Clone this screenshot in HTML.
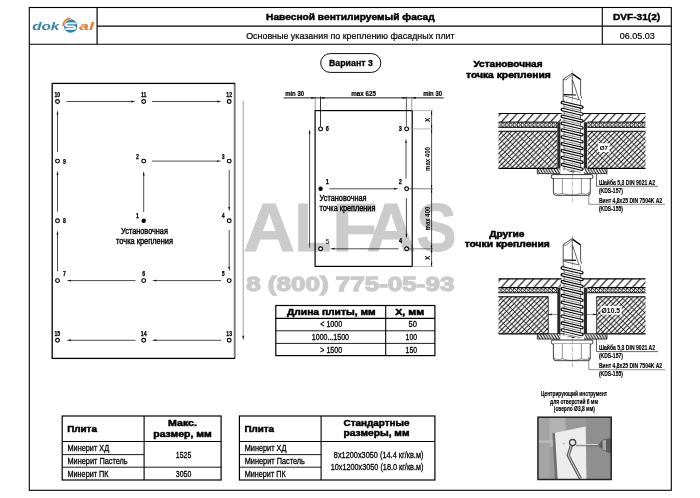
<!DOCTYPE html>
<html><head><meta charset="utf-8"><title>DVF-31(2)</title>
<style>html,body{margin:0;padding:0;background:#fff;}svg{display:block;will-change:transform;font-family:'Liberation Sans', sans-serif;}</style>
</head><body>
<svg width="700" height="498" viewBox="0 0 700 498">
<defs>
<pattern id="hd" width="8.2" height="8.6" patternUnits="userSpaceOnUse" patternTransform="translate(501 113.4)"><path d="M-1.3,10.32 L9.63,-1.72 M-9.5,10.32 L1.43,-1.72 M6.9,10.32 L17.83,-1.72" stroke="#000" stroke-width="1.05"/></pattern>
<pattern id="hx1" width="4.5" height="4.5" patternUnits="userSpaceOnUse" patternTransform="translate(498.5 131.3)"><path d="M-1,5.5 L5.5,-1 M-1,1 L1,-1 M3.5,5.5 L5.5,3.5" stroke="#000" stroke-width="1.0"/></pattern>
<pattern id="hx2" width="7.6" height="7.6" patternUnits="userSpaceOnUse" patternTransform="translate(499.5 131.3)"><path d="M-1,-1 L8.6,8.6 M-1,6.6 L1,8.6 M6.6,-1 L8.6,1" stroke="#000" stroke-width="0.7"/></pattern>
<pattern id="hs" width="3.9" height="5" patternUnits="userSpaceOnUse" patternTransform="translate(498.5 122.4)"><path d="M-1,-1 L6,6 M-1,6 L6,-1 M-1,2.9 L2.1,6 M-1,2.1 L2.1,-1 M1.8,-1 L4.9,2.1 M1.8,6 L4.9,2.9" stroke="#000" stroke-width="0.95"/></pattern>
<pattern id="hw" width="2.8" height="4.8" patternUnits="userSpaceOnUse" patternTransform="translate(537.3 168.9)"><path d="M-0.7,-1.2 L3.5,6 M-3.5,-1.2 L0.7,6 M2.1,-1.2 L6.3,6" stroke="#000" stroke-width="0.95"/></pattern>
<filter id="bl" x="-5%" y="-5%" width="110%" height="110%"><feGaussianBlur stdDeviation="0.7"/></filter>
<clipPath id="ph"><rect x="538" y="417.3" width="73" height="62"/></clipPath>
</defs>
<rect width="700" height="498" fill="#fff"/>
<g fill="#cfcfcf">
<text transform="translate(243.42 251.1) scale(1.0286 1)" font-size="69.3" font-weight="bold" fill="#cbcbcb" stroke="#cbcbcb" stroke-width="1">A</text>
<text transform="translate(294.74 251.1) scale(0.8632 1)" font-size="69.3" font-weight="bold" fill="#cbcbcb" stroke="#cbcbcb" stroke-width="1">L</text>
<text transform="translate(331.97 251.1) scale(1.0751 1)" font-size="69.3" font-weight="bold" fill="#cbcbcb" stroke="#cbcbcb" stroke-width="1">F</text>
<text transform="translate(366.4 251.1) scale(0.9812 1)" font-size="69.3" font-weight="bold" fill="#cbcbcb" stroke="#cbcbcb" stroke-width="1">A</text>
<text transform="translate(416.54 251.1) scale(0.8631 1)" font-size="69.3" font-weight="bold" fill="#cbcbcb" stroke="#cbcbcb" stroke-width="1">S</text>
<text x="246.2" y="291.0" font-size="20.8" font-weight="bold" fill="#cbcbcb" textLength="208.2" lengthAdjust="spacingAndGlyphs" stroke="#cbcbcb" stroke-width="1.3">8 (800) 775-05-93</text>
</g>
<rect x="29.3" y="7.5" width="642.0" height="482.8" stroke="#000" stroke-width="1.1" fill="none" />
<line x1="29.3" y1="44.3" x2="671.3" y2="44.3" stroke="#000" stroke-width="1.1" />
<line x1="97.1" y1="7.5" x2="97.1" y2="44.3" stroke="#000" stroke-width="1.2" />
<line x1="97.1" y1="26.1" x2="671.3" y2="26.1" stroke="#000" stroke-width="1.1" />
<line x1="602.3" y1="7.5" x2="602.3" y2="44.3" stroke="#000" stroke-width="1.1" />
<text x="350.4" y="20.4" font-size="9.4" font-weight="bold" text-anchor="middle" textLength="168.7" lengthAdjust="spacingAndGlyphs" stroke="#000" stroke-width="0.45">Навесной вентилируемый фасад</text>
<text x="350.4" y="39.2" font-size="9.7" text-anchor="middle" textLength="208.5" lengthAdjust="spacingAndGlyphs" stroke="#000" stroke-width="0.22">Основные указания по креплению фасадных плит</text>
<text x="636.6" y="19.9" font-size="9.5" font-weight="bold" text-anchor="middle" textLength="47.3" lengthAdjust="spacingAndGlyphs" stroke="#000" stroke-width="0.4">DVF-31(2)</text>
<text x="637.2" y="39.2" font-size="9.4" text-anchor="middle" textLength="35" lengthAdjust="spacingAndGlyphs" stroke="#000" stroke-width="0.2">06.05.03</text>
<text x="32.2" y="30.1" font-size="11.8" font-weight="bold" font-style="italic" fill="#3585ab" textLength="27.2" lengthAdjust="spacingAndGlyphs">dok</text>
<text x="79" y="30.1" font-size="11.8" font-weight="bold" font-style="italic" fill="#e9782c" textLength="15" lengthAdjust="spacingAndGlyphs">al</text>
<g transform="translate(70.6 26.05)">
<circle r="6.7" fill="#2f86ae"/>
<path d="M-8.3,0.5 A8.1,8.1 0 0 1 0.5,-8.3 L0.4,-5.9 A6.1,6.1 0 0 0 -5.9,0.4 Z" fill="#fff" transform="translate(-0.3 -0.3)"/>
<path d="M-8.0,0.3 A8.0,8.0 0 0 1 0.3,-8.0 L0.25,-6.35 A6.35,6.35 0 0 0 -6.35,0.25 Z" fill="#e9782c" transform="translate(-0.3 -0.3)"/>
<path d="M5.3,-2.6 L-2.3,-2.6 Q-4.6,-2.6 -4.6,-1.15 Q-4.6,0.3 -2.3,0.3 L2.3,0.3 Q4.6,0.3 4.6,1.6 Q4.6,2.9 2.3,2.9 L-5.3,2.9" fill="none" stroke="#fff" stroke-width="1.75"/>
</g>
<rect x="320.7" y="53.6" width="60.1" height="18.8" rx="9.4" ry="9.4" fill="#fff" stroke="#000" stroke-width="0.95"/>
<text x="350.9" y="66.3" font-size="9.4" font-weight="bold" text-anchor="middle" textLength="44" lengthAdjust="spacingAndGlyphs" stroke="#000" stroke-width="0.3">Вариант 3</text>
<rect x="52.2" y="83.4" width="182.4" height="275.0" stroke="#000" stroke-width="1.3" fill="none" />
<line x1="234.6" y1="84.2" x2="234.6" y2="357.6" stroke="#7a7a7a" stroke-width="1.5" />
<line x1="66.5" y1="101.5" x2="131.6" y2="101.5" stroke="#111" stroke-width="0.75" />
<polygon points="135.5,101.5 131.1,102.45 131.1,100.55" fill="#111"/>
<line x1="152" y1="101.5" x2="217.6" y2="101.5" stroke="#111" stroke-width="0.75" />
<polygon points="221.5,101.5 217.1,102.45 217.1,100.55" fill="#111"/>
<line x1="57.5" y1="152" x2="57.5" y2="114.1" stroke="#111" stroke-width="0.75" />
<polygon points="57.5,110.2 58.45,114.6 56.55,114.6" fill="#111"/>
<line x1="57.5" y1="211.7" x2="57.5" y2="174.5" stroke="#111" stroke-width="0.75" />
<polygon points="57.5,170.6 58.45,175.0 56.55,175.0" fill="#111"/>
<line x1="152" y1="161.1" x2="217.6" y2="161.1" stroke="#111" stroke-width="0.75" />
<polygon points="221.5,161.1 217.1,162.05 217.1,160.15" fill="#111"/>
<line x1="143.7" y1="212" x2="143.7" y2="174.9" stroke="#111" stroke-width="0.75" />
<polygon points="143.7,171 144.65,175.4 142.75,175.4" fill="#111"/>
<line x1="229.2" y1="170" x2="229.2" y2="207.6" stroke="#111" stroke-width="0.75" />
<polygon points="229.2,211.5 228.25,207.1 230.15,207.1" fill="#111"/>
<line x1="229.2" y1="230" x2="229.2" y2="267.6" stroke="#111" stroke-width="0.75" />
<polygon points="229.2,271.5 228.25,267.1 230.15,267.1" fill="#111"/>
<line x1="221" y1="280.6" x2="155.9" y2="280.6" stroke="#111" stroke-width="0.75" />
<polygon points="152,280.6 156.4,279.65 156.4,281.55" fill="#111"/>
<line x1="135.5" y1="280.6" x2="70.4" y2="280.6" stroke="#111" stroke-width="0.75" />
<polygon points="66.5,280.6 70.9,279.65 70.9,281.55" fill="#111"/>
<line x1="57.5" y1="271.4" x2="57.5" y2="234.2" stroke="#111" stroke-width="0.75" />
<polygon points="57.5,230.3 58.45,234.7 56.55,234.7" fill="#111"/>
<line x1="221" y1="340.3" x2="155.9" y2="340.3" stroke="#111" stroke-width="0.75" />
<polygon points="152,340.3 156.4,339.35 156.4,341.25" fill="#111"/>
<line x1="135.5" y1="340.3" x2="70.4" y2="340.3" stroke="#111" stroke-width="0.75" />
<polygon points="66.5,340.3 70.9,339.35 70.9,341.25" fill="#111"/>
<circle cx="57.5" cy="101.5" r="1.9" fill="#fff" stroke="#000" stroke-width="1.15"/>
<circle cx="143.7" cy="101.5" r="1.9" fill="#fff" stroke="#000" stroke-width="1.15"/>
<circle cx="229.2" cy="101.5" r="1.9" fill="#fff" stroke="#000" stroke-width="1.15"/>
<circle cx="57.5" cy="161.1" r="1.9" fill="#fff" stroke="#000" stroke-width="1.15"/>
<circle cx="143.7" cy="161.1" r="1.9" fill="#fff" stroke="#000" stroke-width="1.15"/>
<circle cx="229.2" cy="161.1" r="1.9" fill="#fff" stroke="#000" stroke-width="1.15"/>
<circle cx="57.5" cy="220.8" r="1.9" fill="#fff" stroke="#000" stroke-width="1.15"/>
<circle cx="143.7" cy="220.8" r="2.1999999999999997" fill="#000"/>
<circle cx="229.2" cy="220.8" r="1.9" fill="#fff" stroke="#000" stroke-width="1.15"/>
<circle cx="57.5" cy="280.6" r="1.9" fill="#fff" stroke="#000" stroke-width="1.15"/>
<circle cx="143.7" cy="280.6" r="1.9" fill="#fff" stroke="#000" stroke-width="1.15"/>
<circle cx="229.2" cy="280.6" r="1.9" fill="#fff" stroke="#000" stroke-width="1.15"/>
<circle cx="57.5" cy="340.3" r="1.9" fill="#fff" stroke="#000" stroke-width="1.15"/>
<circle cx="143.7" cy="340.3" r="1.9" fill="#fff" stroke="#000" stroke-width="1.15"/>
<circle cx="229.2" cy="340.3" r="1.9" fill="#fff" stroke="#000" stroke-width="1.15"/>
<text x="57.3" y="97.2" font-size="6.4" font-weight="bold" text-anchor="middle" textLength="5.7" lengthAdjust="spacingAndGlyphs" stroke="#000" stroke-width="0.25">10</text>
<text x="143.7" y="97.2" font-size="6.4" font-weight="bold" text-anchor="middle" textLength="5.41" lengthAdjust="spacingAndGlyphs" stroke="#000" stroke-width="0.25">11</text>
<text x="229.2" y="97.2" font-size="6.4" font-weight="bold" text-anchor="middle" textLength="5.7" lengthAdjust="spacingAndGlyphs" stroke="#000" stroke-width="0.25">12</text>
<text x="64.4" y="163.7" font-size="6.4" font-weight="bold" text-anchor="middle" textLength="2.85" lengthAdjust="spacingAndGlyphs" stroke="#000" stroke-width="0.25">9</text>
<text x="137.5" y="158.6" font-size="6.4" font-weight="bold" text-anchor="middle" textLength="2.85" lengthAdjust="spacingAndGlyphs" stroke="#000" stroke-width="0.25">2</text>
<text x="223.2" y="158.6" font-size="6.4" font-weight="bold" text-anchor="middle" textLength="2.85" lengthAdjust="spacingAndGlyphs" stroke="#000" stroke-width="0.25">3</text>
<text x="64.4" y="223.4" font-size="6.4" font-weight="bold" text-anchor="middle" textLength="2.85" lengthAdjust="spacingAndGlyphs" stroke="#000" stroke-width="0.25">8</text>
<text x="137.5" y="218.2" font-size="6.4" font-weight="bold" text-anchor="middle" textLength="2.85" lengthAdjust="spacingAndGlyphs" stroke="#000" stroke-width="0.25">1</text>
<text x="223.2" y="218.2" font-size="6.4" font-weight="bold" text-anchor="middle" textLength="2.85" lengthAdjust="spacingAndGlyphs" stroke="#000" stroke-width="0.25">4</text>
<text x="64.5" y="275.6" font-size="6.4" font-weight="bold" text-anchor="middle" textLength="2.85" lengthAdjust="spacingAndGlyphs" stroke="#000" stroke-width="0.25">7</text>
<text x="143.7" y="275.6" font-size="6.4" font-weight="bold" text-anchor="middle" textLength="2.85" lengthAdjust="spacingAndGlyphs" stroke="#000" stroke-width="0.25">6</text>
<text x="223.2" y="275.6" font-size="6.4" font-weight="bold" text-anchor="middle" textLength="2.85" lengthAdjust="spacingAndGlyphs" stroke="#000" stroke-width="0.25">5</text>
<text x="57.3" y="335.6" font-size="6.4" font-weight="bold" text-anchor="middle" textLength="5.7" lengthAdjust="spacingAndGlyphs" stroke="#000" stroke-width="0.25">15</text>
<text x="143.7" y="335.6" font-size="6.4" font-weight="bold" text-anchor="middle" textLength="5.7" lengthAdjust="spacingAndGlyphs" stroke="#000" stroke-width="0.25">14</text>
<text x="229.2" y="335.6" font-size="6.4" font-weight="bold" text-anchor="middle" textLength="5.7" lengthAdjust="spacingAndGlyphs" stroke="#000" stroke-width="0.25">13</text>
<text x="144.5" y="233.5" font-size="9.2" text-anchor="middle" textLength="46.8" lengthAdjust="spacingAndGlyphs" stroke="#000" stroke-width="0.4">Установочная</text>
<text x="144.5" y="243.6" font-size="9.2" text-anchor="middle" textLength="57" lengthAdjust="spacingAndGlyphs" stroke="#000" stroke-width="0.4">точка крепления</text>
<line x1="243.2" y1="101" x2="243.2" y2="337" stroke="#a8a8a8" stroke-width="1.1" />
<polygon points="243.2,340.4 242.3,335.8 244.1,335.8" fill="#111"/>
<rect x="315.1" y="110.6" width="97.1" height="155.8" stroke="#000" stroke-width="1.2" fill="none" />
<line x1="283.6" y1="97.9" x2="443.6" y2="97.9" stroke="#000" stroke-width="0.9" />
<line x1="315.2" y1="96.6" x2="315.2" y2="110.6" stroke="#333" stroke-width="0.5" />
<line x1="320.5" y1="96.6" x2="320.5" y2="126.5" stroke="#000" stroke-width="0.8" />
<line x1="406.4" y1="96.6" x2="406.4" y2="126.5" stroke="#1a1a1a" stroke-width="0.7" />
<line x1="411.8" y1="96.6" x2="411.8" y2="110.6" stroke="#8a8a8a" stroke-width="0.9" />
<path d="M315.2,97.9 l-4,-0.9 v1.8z M320.5,97.9 l4,-0.9 v1.8z M406.4,97.9 l-4,-0.9 v1.8z M411.9,97.9 l4,-0.9 v1.8z" fill="#000"/>
<text x="285.2" y="96.4" font-size="7.2" font-weight="bold" textLength="18.8" lengthAdjust="spacingAndGlyphs" stroke="#000" stroke-width="0.2">min 30</text>
<text x="363.6" y="96.4" font-size="7.2" font-weight="bold" text-anchor="middle" textLength="24.9" lengthAdjust="spacingAndGlyphs" stroke="#000" stroke-width="0.2">max 625</text>
<text x="423.2" y="96.4" font-size="7.2" font-weight="bold" textLength="18.8" lengthAdjust="spacingAndGlyphs" stroke="#000" stroke-width="0.2">min 30</text>
<line x1="431.6" y1="110.6" x2="431.6" y2="266.4" stroke="#000" stroke-width="0.7" />
<line x1="412.2" y1="110.6" x2="433" y2="110.6" stroke="#888" stroke-width="0.6" />
<line x1="409" y1="128.9" x2="433" y2="128.9" stroke="#999" stroke-width="0.7" />
<line x1="409" y1="188.8" x2="433" y2="188.8" stroke="#222" stroke-width="0.6" />
<line x1="409" y1="248.8" x2="433" y2="248.8" stroke="#333" stroke-width="0.6" />
<line x1="412.2" y1="266.4" x2="433" y2="266.4" stroke="#888" stroke-width="0.6" />
<path d="M431.6,110.6 l-0.7,3.6 h1.4z M431.6,128.9 l-0.7,-3.6 h1.4z M431.6,128.9 l-0.7,3.6 h1.4z M431.6,188.8 l-0.7,-3.6 h1.4z M431.6,188.8 l-0.7,3.6 h1.4z M431.6,248.8 l-0.7,-3.6 h1.4z M431.6,248.8 l-0.7,3.6 h1.4z M431.6,266.4 l-0.7,-3.6 h1.4z" fill="#000"/>
<text x="430" y="119.8" font-size="6.6" font-weight="bold" text-anchor="middle" transform="rotate(-90 430 119.8)">X</text>
<text x="430" y="257.9" font-size="6.6" font-weight="bold" text-anchor="middle" transform="rotate(-90 430 257.9)">X</text>
<text x="430.4" y="159" font-size="6.4" font-weight="bold" text-anchor="middle" textLength="24" lengthAdjust="spacingAndGlyphs" transform="rotate(-90 430.4 159)">max 400</text>
<text x="430.4" y="218.5" font-size="6.4" font-weight="bold" text-anchor="middle" textLength="24" lengthAdjust="spacingAndGlyphs" transform="rotate(-90 430.4 218.5)">max 400</text>
<line x1="329.4" y1="188.8" x2="394.6" y2="188.8" stroke="#111" stroke-width="0.75" />
<polygon points="398.5,188.8 394.1,189.75 394.1,187.85" fill="#111"/>
<line x1="406" y1="178.5" x2="406.0" y2="142.3" stroke="#111" stroke-width="0.75" />
<polygon points="406,138.4 406.95,142.8 405.05,142.8" fill="#111"/>
<line x1="406.4" y1="198" x2="406.4" y2="234.7" stroke="#111" stroke-width="0.75" />
<polygon points="406.4,238.6 405.45,234.2 407.35,234.2" fill="#111"/>
<line x1="398.5" y1="248.8" x2="333.9" y2="248.8" stroke="#111" stroke-width="0.75" />
<polygon points="330,248.8 334.4,247.85 334.4,249.75" fill="#111"/>
<line x1="309.6" y1="247.5" x2="309.6" y2="133.1" stroke="#111" stroke-width="0.75" />
<polygon points="309.6,129.2 310.55,133.6 308.65,133.6" fill="#111"/>
<circle cx="320.6" cy="128.9" r="1.9" fill="#fff" stroke="#000" stroke-width="1.15"/>
<circle cx="406.6" cy="128.9" r="1.9" fill="#fff" stroke="#000" stroke-width="1.15"/>
<circle cx="320.6" cy="188.8" r="2.1999999999999997" fill="#000"/>
<circle cx="406.6" cy="188.8" r="1.9" fill="#fff" stroke="#000" stroke-width="1.15"/>
<circle cx="320.6" cy="248.8" r="1.9" fill="#fff" stroke="#000" stroke-width="1.15"/>
<circle cx="406.6" cy="248.8" r="1.9" fill="#fff" stroke="#000" stroke-width="1.15"/>
<text x="327.3" y="131.2" font-size="7.0" font-weight="bold" text-anchor="middle" textLength="3.11" lengthAdjust="spacingAndGlyphs" stroke="#000" stroke-width="0.25">6</text>
<text x="400.4" y="131.2" font-size="7.0" font-weight="bold" text-anchor="middle" textLength="3.11" lengthAdjust="spacingAndGlyphs" stroke="#000" stroke-width="0.25">3</text>
<text x="327.2" y="183.8" font-size="7.0" font-weight="bold" text-anchor="middle" textLength="3.11" lengthAdjust="spacingAndGlyphs" stroke="#000" stroke-width="0.25">1</text>
<text x="400.4" y="183.7" font-size="7.0" font-weight="bold" text-anchor="middle" textLength="3.11" lengthAdjust="spacingAndGlyphs" stroke="#000" stroke-width="0.25">2</text>
<text x="327.4" y="243.7" font-size="7.6" text-anchor="middle" textLength="3.5" lengthAdjust="spacingAndGlyphs">5</text>
<text x="400.5" y="242.8" font-size="7.0" font-weight="bold" text-anchor="middle" textLength="3.11" lengthAdjust="spacingAndGlyphs" stroke="#000" stroke-width="0.25">4</text>
<text x="319.6" y="200.6" font-size="9.2" textLength="47" lengthAdjust="spacingAndGlyphs" stroke="#000" stroke-width="0.4">Установочная</text>
<text x="319.4" y="211.1" font-size="9.2" textLength="56" lengthAdjust="spacingAndGlyphs" stroke="#000" stroke-width="0.4">точка крепления</text>
<rect x="275.8" y="305.5" width="159.1" height="50.1" stroke="#000" stroke-width="1.2" fill="none" />
<line x1="275.7" y1="318.4" x2="434.9" y2="318.4" stroke="#000" stroke-width="1.1" />
<line x1="275.7" y1="330.8" x2="434.9" y2="330.8" stroke="#000" stroke-width="0.9" />
<line x1="275.7" y1="343.4" x2="434.9" y2="343.4" stroke="#000" stroke-width="0.9" />
<line x1="385.7" y1="305.5" x2="385.7" y2="355.6" stroke="#000" stroke-width="1.1" />
<text x="331.3" y="315.1" font-size="8.2" font-weight="bold" text-anchor="middle" textLength="88.6" lengthAdjust="spacingAndGlyphs" stroke="#000" stroke-width="0.45">Длина плиты, мм</text>
<text x="409.7" y="315.1" font-size="8.2" font-weight="bold" text-anchor="middle" textLength="29.1" lengthAdjust="spacingAndGlyphs" stroke="#000" stroke-width="0.45">Х, мм</text>
<text x="331.2" y="327.4" font-size="8.6" text-anchor="middle" textLength="21.8" lengthAdjust="spacingAndGlyphs" stroke="#000" stroke-width="0.3">&lt; 1000</text>
<text x="330.4" y="340.1" font-size="8.6" text-anchor="middle" textLength="37.2" lengthAdjust="spacingAndGlyphs" stroke="#000" stroke-width="0.3">1000...1500</text>
<text x="331.2" y="352.9" font-size="8.6" text-anchor="middle" textLength="21.8" lengthAdjust="spacingAndGlyphs" stroke="#000" stroke-width="0.3">&gt; 1500</text>
<text x="417" y="327.4" font-size="8.6" text-anchor="end" textLength="8.4" lengthAdjust="spacingAndGlyphs" stroke="#000" stroke-width="0.3">50</text>
<text x="417" y="340.1" font-size="8.6" text-anchor="end" textLength="11.4" lengthAdjust="spacingAndGlyphs" stroke="#000" stroke-width="0.3">100</text>
<text x="417" y="352.9" font-size="8.6" text-anchor="end" textLength="11.4" lengthAdjust="spacingAndGlyphs" stroke="#000" stroke-width="0.3">150</text>
<rect x="62.2" y="416" width="158.9" height="64" stroke="#000" stroke-width="1.2" fill="none" />
<line x1="62.2" y1="441.5" x2="221.1" y2="441.5" stroke="#000" stroke-width="1.1" />
<line x1="62.2" y1="454.6" x2="144.1" y2="454.6" stroke="#000" stroke-width="0.9" />
<line x1="62.2" y1="467.2" x2="221.1" y2="467.2" stroke="#000" stroke-width="0.9" />
<line x1="144.1" y1="416" x2="144.1" y2="480" stroke="#000" stroke-width="1.1" />
<text x="67.2" y="432" font-size="8.6" font-weight="bold" textLength="29.7" lengthAdjust="spacingAndGlyphs" stroke="#000" stroke-width="0.45">Плита</text>
<text x="182.5" y="426.2" font-size="8.6" font-weight="bold" text-anchor="middle" textLength="29" lengthAdjust="spacingAndGlyphs" stroke="#000" stroke-width="0.45">Макс.</text>
<text x="182.5" y="436.6" font-size="8.6" font-weight="bold" text-anchor="middle" textLength="58.5" lengthAdjust="spacingAndGlyphs" stroke="#000" stroke-width="0.45">размер, мм</text>
<text x="67.5" y="451.4" font-size="9.3" textLength="41.7" lengthAdjust="spacingAndGlyphs" stroke="#000" stroke-width="0.3">Минерит ХД</text>
<text x="67.5" y="464.0" font-size="9.3" textLength="60.2" lengthAdjust="spacingAndGlyphs" stroke="#000" stroke-width="0.3">Минерит Пастель</text>
<text x="67.5" y="476.7" font-size="9.3" textLength="41" lengthAdjust="spacingAndGlyphs" stroke="#000" stroke-width="0.3">Минерит ПК</text>
<text x="183.6" y="458.3" font-size="9.3" text-anchor="middle" textLength="15.5" lengthAdjust="spacingAndGlyphs" stroke="#000" stroke-width="0.3">1525</text>
<text x="183.6" y="476.9" font-size="9.3" text-anchor="middle" textLength="15.5" lengthAdjust="spacingAndGlyphs" stroke="#000" stroke-width="0.3">3050</text>
<rect x="239.4" y="416" width="195.5" height="64" stroke="#000" stroke-width="1.2" fill="none" />
<line x1="239.4" y1="441.5" x2="434.9" y2="441.5" stroke="#000" stroke-width="1.1" />
<line x1="239.4" y1="454.6" x2="321.1" y2="454.6" stroke="#000" stroke-width="0.9" />
<line x1="239.4" y1="467.2" x2="321.1" y2="467.2" stroke="#000" stroke-width="0.9" />
<line x1="321.1" y1="416" x2="321.1" y2="480" stroke="#000" stroke-width="1.1" />
<text x="244.4" y="432" font-size="8.6" font-weight="bold" textLength="29.7" lengthAdjust="spacingAndGlyphs" stroke="#000" stroke-width="0.45">Плита</text>
<text x="376.5" y="426" font-size="8.6" font-weight="bold" text-anchor="middle" textLength="66" lengthAdjust="spacingAndGlyphs" stroke="#000" stroke-width="0.45">Стандартные</text>
<text x="376.5" y="436.4" font-size="8.6" font-weight="bold" text-anchor="middle" textLength="66" lengthAdjust="spacingAndGlyphs" stroke="#000" stroke-width="0.45">размеры, мм</text>
<text x="244.7" y="451.4" font-size="9.3" textLength="41.7" lengthAdjust="spacingAndGlyphs" stroke="#000" stroke-width="0.3">Минерит ХД</text>
<text x="244.7" y="464.0" font-size="9.3" textLength="60.2" lengthAdjust="spacingAndGlyphs" stroke="#000" stroke-width="0.3">Минерит Пастель</text>
<text x="244.7" y="476.7" font-size="9.3" textLength="41" lengthAdjust="spacingAndGlyphs" stroke="#000" stroke-width="0.3">Минерит ПК</text>
<text x="423.4" y="458.1" font-size="9.2" text-anchor="end" textLength="89.6" lengthAdjust="spacingAndGlyphs" stroke="#000" stroke-width="0.3">8x1200x3050 (14.4 кг/кв.м)</text>
<text x="423.4" y="469.5" font-size="9.2" text-anchor="end" textLength="92.7" lengthAdjust="spacingAndGlyphs" stroke="#000" stroke-width="0.3">10x1200x3050 (18.0 кг/кв.м)</text>
<text x="508" y="67.3" font-size="9.5" font-weight="bold" text-anchor="middle" textLength="69" lengthAdjust="spacingAndGlyphs" stroke="#000" stroke-width="0.5">Установочная</text>
<text x="508.4" y="77.7" font-size="9.5" font-weight="bold" text-anchor="middle" textLength="84.8" lengthAdjust="spacingAndGlyphs" stroke="#000" stroke-width="0.5">точка крепления</text>
<text x="506.8" y="237" font-size="9.5" font-weight="bold" text-anchor="middle" textLength="35.3" lengthAdjust="spacingAndGlyphs" stroke="#000" stroke-width="0.5">Другие</text>
<text x="507.3" y="247.2" font-size="9.5" font-weight="bold" text-anchor="middle" textLength="85.2" lengthAdjust="spacingAndGlyphs" stroke="#000" stroke-width="0.5">точки крепления</text>
<g transform="translate(0 0)">
<rect x="498.5" y="113.4" width="62.700000000000045" height="8.6" fill="url(#hd)"/>
<rect x="583.2" y="113.4" width="62.299999999999955" height="8.6" fill="url(#hd)"/>
<line x1="498.5" y1="113.5" x2="561.6" y2="113.5" stroke="#000" stroke-width="1.2" />
<line x1="583" y1="113.5" x2="645.5" y2="113.5" stroke="#000" stroke-width="1.2" />
<line x1="498.5" y1="122.1" x2="557.4" y2="122.1" stroke="#000" stroke-width="1.0" />
<line x1="587.4" y1="122.1" x2="645.5" y2="122.1" stroke="#000" stroke-width="1.0" />
<rect x="498.5" y="122.4" width="58.89999999999998" height="5" fill="url(#hs)"/>
<rect x="587.4" y="122.4" width="58.10000000000002" height="5" fill="url(#hs)"/>
<line x1="498.5" y1="127.4" x2="557.4" y2="127.4" stroke="#000" stroke-width="0.9" />
<line x1="587.4" y1="127.4" x2="645.5" y2="127.4" stroke="#000" stroke-width="0.9" />
<rect x="498.5" y="131.3" width="58.9" height="37.1" fill="url(#hx1)"/>
<rect x="498.5" y="131.3" width="58.9" height="37.1" fill="url(#hx2)"/>
<rect x="587.5" y="131.3" width="58.0" height="37.1" fill="url(#hx1)"/>
<rect x="587.5" y="131.3" width="58.0" height="37.1" fill="url(#hx2)"/>
<line x1="498.5" y1="131.3" x2="557.4" y2="131.3" stroke="#000" stroke-width="1.1" />
<line x1="587.5" y1="131.3" x2="645.5" y2="131.3" stroke="#000" stroke-width="1.1" />
<line x1="498.5" y1="168.4" x2="557.4" y2="168.4" stroke="#000" stroke-width="1.2" />
<line x1="587.5" y1="168.4" x2="645.5" y2="168.4" stroke="#000" stroke-width="1.2" />
<rect x="557.3" y="122.2" width="3.1" height="46.4" fill="#2a2a2a"/>
<rect x="583.8" y="122.2" width="3.2" height="46.4" fill="#2a2a2a"/>
<rect x="537.3" y="168.9" width="23.1" height="4.8" fill="url(#hw)"/>
<rect x="584.4" y="168.9" width="22.6" height="4.8" fill="url(#hw)"/>
<path d="M537.3,168.9 V173.7 H560.4 M584.4,173.7 H607 V168.9" fill="none" stroke="#000" stroke-width="0.7"/>
<path d="M563.2,101 L563.2,79.2 L572.2,73.2 L580.6,79.2 L580.6,95.6 Q581.8,96.4 581.6,98.2" fill="#fff" stroke="#1a1a1a" stroke-width="0.75"/>
<path d="M572.2,73.2 L572.4,94.6 M572.6,80.2 L579,99.4" fill="none" stroke="#000" stroke-width="0.6"/>
<path d="M571.6,75.2 L566,79.9 L563.4,79.5" fill="none" stroke="#222" stroke-width="0.6"/><path d="M572.8,74.2 L580.4,79.6" fill="none" stroke="#000" stroke-width="1.2"/>
<path d="M563.6,94.6 L576,95" fill="none" stroke="#000" stroke-width="1.1"/>
<path d="M563.6,95.8 L579.8,99.8" fill="none" stroke="#000" stroke-width="0.6"/>
<rect x="564" y="100" width="16.5" height="70" fill="#fff"/>
<line x1="564" y1="100" x2="564" y2="170.5" stroke="#222" stroke-width="0.6" />
<line x1="580.5" y1="100" x2="580.5" y2="170.5" stroke="#222" stroke-width="0.6" />
<path d="M563.8,106.6 L580.8,110.5" stroke="#222" stroke-width="0.55" fill="none"/>
<path d="M562.3,102.6 L581.9,107.2" stroke="#000" stroke-width="3.5" stroke-linecap="round" fill="none"/>
<path d="M562.5,102.65 L581.7,107.15" stroke="#fff" stroke-width="1.4" stroke-linecap="round" fill="none"/>
<path d="M563.8,113.48 L580.8,117.38" stroke="#222" stroke-width="0.55" fill="none"/>
<path d="M562.3,109.48 L581.9,114.08" stroke="#000" stroke-width="3.5" stroke-linecap="round" fill="none"/>
<path d="M562.5,109.53 L581.7,114.03" stroke="#fff" stroke-width="1.4" stroke-linecap="round" fill="none"/>
<path d="M563.8,120.36 L580.8,124.26" stroke="#222" stroke-width="0.55" fill="none"/>
<path d="M562.3,116.36 L581.9,120.96" stroke="#000" stroke-width="3.5" stroke-linecap="round" fill="none"/>
<path d="M562.5,116.41 L581.7,120.91" stroke="#fff" stroke-width="1.4" stroke-linecap="round" fill="none"/>
<path d="M563.8,127.24 L580.8,131.14" stroke="#222" stroke-width="0.55" fill="none"/>
<path d="M562.3,123.24 L581.9,127.84" stroke="#000" stroke-width="3.5" stroke-linecap="round" fill="none"/>
<path d="M562.5,123.29 L581.7,127.79" stroke="#fff" stroke-width="1.4" stroke-linecap="round" fill="none"/>
<path d="M563.8,134.12 L580.8,138.02" stroke="#222" stroke-width="0.55" fill="none"/>
<path d="M562.3,130.12 L581.9,134.72" stroke="#000" stroke-width="3.5" stroke-linecap="round" fill="none"/>
<path d="M562.5,130.17 L581.7,134.67" stroke="#fff" stroke-width="1.4" stroke-linecap="round" fill="none"/>
<path d="M563.8,141.0 L580.8,144.9" stroke="#222" stroke-width="0.55" fill="none"/>
<path d="M562.3,137.0 L581.9,141.6" stroke="#000" stroke-width="3.5" stroke-linecap="round" fill="none"/>
<path d="M562.5,137.05 L581.7,141.55" stroke="#fff" stroke-width="1.4" stroke-linecap="round" fill="none"/>
<path d="M563.8,147.88 L580.8,151.78" stroke="#222" stroke-width="0.55" fill="none"/>
<path d="M562.3,143.88 L581.9,148.48" stroke="#000" stroke-width="3.5" stroke-linecap="round" fill="none"/>
<path d="M562.5,143.93 L581.7,148.43" stroke="#fff" stroke-width="1.4" stroke-linecap="round" fill="none"/>
<path d="M563.8,154.76 L580.8,158.66" stroke="#222" stroke-width="0.55" fill="none"/>
<path d="M562.3,150.76 L581.9,155.36" stroke="#000" stroke-width="3.5" stroke-linecap="round" fill="none"/>
<path d="M562.5,150.81 L581.7,155.31" stroke="#fff" stroke-width="1.4" stroke-linecap="round" fill="none"/>
<path d="M563.8,161.64 L580.8,165.54" stroke="#222" stroke-width="0.55" fill="none"/>
<path d="M562.3,157.64 L581.9,162.24" stroke="#000" stroke-width="3.5" stroke-linecap="round" fill="none"/>
<path d="M562.5,157.69 L581.7,162.19" stroke="#fff" stroke-width="1.4" stroke-linecap="round" fill="none"/>
<path d="M563.8,168.52 L580.8,172.42" stroke="#222" stroke-width="0.55" fill="none"/>
<path d="M562.3,164.52 L581.9,169.12" stroke="#000" stroke-width="3.5" stroke-linecap="round" fill="none"/>
<path d="M562.5,164.57 L581.7,169.07" stroke="#fff" stroke-width="1.4" stroke-linecap="round" fill="none"/>
<path d="M566,170.6 L575.5,171.8 L573.6,172.6 Z" fill="#000"/>
<line x1="572.4" y1="70.5" x2="572.4" y2="100" stroke="#444" stroke-width="0.4" stroke-dasharray="5 1.2 1 1.2"/>
<line x1="572.4" y1="100" x2="572.4" y2="170" stroke="#777" stroke-width="0.35" />
<rect x="551.3" y="174.6" width="41.6" height="4.1" rx="1.7" fill="#fff" stroke="#000" stroke-width="0.8"/>
<path d="M553.4,178.7 L553.4,192.8 Q553.4,195.3 556,195.3 L587.8,195.3 Q590.3,195.3 590.3,192.8 L590.3,178.7" fill="#fff" stroke="#111" stroke-width="0.8"/>
<path d="M562.3,178.7 L562.3,193.4 M581.4,178.7 L581.4,193.4 M553.6,192.8 Q558,195.6 562.4,193.4 Q571.9,196.8 581.4,193.4 Q586,195.6 590,192.8" fill="none" stroke="#333" stroke-width="0.55"/>
<line x1="572.4" y1="173" x2="572.4" y2="201.6" stroke="#444" stroke-width="0.4" stroke-dasharray="5 1.2 1 1.2"/>
<path d="M596.5,173.8 L596.5,186.2 L658,186.2" fill="none" stroke="#000" stroke-width="0.6"/>
<path d="M588.8,191.5 L588.8,204.3 L665,204.3" fill="none" stroke="#333" stroke-width="0.55"/>
<text x="598.9" y="185" font-size="6.8" font-weight="bold" textLength="56.2" lengthAdjust="spacingAndGlyphs" stroke="#000" stroke-width="0.15">Шайба 5,3 DIN 9021 A2</text>
<text x="598.9" y="192.6" font-size="6.8" font-weight="bold" textLength="24" lengthAdjust="spacingAndGlyphs" stroke="#000" stroke-width="0.15">(KDS-157)</text>
<text x="598.9" y="202.9" font-size="6.8" font-weight="bold" textLength="63.2" lengthAdjust="spacingAndGlyphs" stroke="#000" stroke-width="0.15">Винт 4,8x25 DIN 7504K A2</text>
<text x="598.9" y="210.6" font-size="6.8" font-weight="bold" textLength="24" lengthAdjust="spacingAndGlyphs" stroke="#000" stroke-width="0.15">(KDS-155)</text>
</g>
<rect x="597.9" y="143.3" width="11.6" height="8.7" fill="#fff"/>
<text x="599.8" y="150.1" font-size="6.1" font-weight="bold" textLength="8.2" lengthAdjust="spacingAndGlyphs">Ø7</text>
<g transform="translate(0 165.4)">
<rect x="498.5" y="113.4" width="62.700000000000045" height="8.6" fill="url(#hd)"/>
<rect x="583.2" y="113.4" width="62.299999999999955" height="8.6" fill="url(#hd)"/>
<line x1="498.5" y1="113.5" x2="561.6" y2="113.5" stroke="#000" stroke-width="1.2" />
<line x1="583" y1="113.5" x2="645.5" y2="113.5" stroke="#000" stroke-width="1.2" />
<line x1="498.5" y1="122.1" x2="557.4" y2="122.1" stroke="#000" stroke-width="1.0" />
<line x1="587.4" y1="122.1" x2="645.5" y2="122.1" stroke="#000" stroke-width="1.0" />
<rect x="498.5" y="122.4" width="58.89999999999998" height="5" fill="url(#hs)"/>
<rect x="587.4" y="122.4" width="58.10000000000002" height="5" fill="url(#hs)"/>
<line x1="498.5" y1="127.4" x2="557.4" y2="127.4" stroke="#000" stroke-width="0.9" />
<line x1="587.4" y1="127.4" x2="645.5" y2="127.4" stroke="#000" stroke-width="0.9" />
<rect x="498.5" y="131.3" width="49.8" height="37.1" fill="url(#hx1)"/>
<rect x="498.5" y="131.3" width="49.8" height="37.1" fill="url(#hx2)"/>
<rect x="596.6" y="131.3" width="48.9" height="37.1" fill="url(#hx1)"/>
<rect x="596.6" y="131.3" width="48.9" height="37.1" fill="url(#hx2)"/>
<line x1="498.5" y1="131.3" x2="548.3" y2="131.3" stroke="#000" stroke-width="1.1" />
<line x1="596.6" y1="131.3" x2="645.5" y2="131.3" stroke="#000" stroke-width="1.1" />
<line x1="498.5" y1="168.4" x2="548.3" y2="168.4" stroke="#000" stroke-width="1.2" />
<line x1="596.6" y1="168.4" x2="645.5" y2="168.4" stroke="#000" stroke-width="1.2" />
<line x1="548.3" y1="131.3" x2="548.3" y2="168.4" stroke="#222" stroke-width="0.8" />
<line x1="596.6" y1="131.3" x2="596.6" y2="168.4" stroke="#222" stroke-width="0.8" />
<line x1="548.3" y1="168.4" x2="596.6" y2="168.4" stroke="#000" stroke-width="0.9" />
<rect x="557.3" y="122.2" width="3.1" height="46.4" fill="#2a2a2a"/>
<rect x="583.8" y="122.2" width="3.2" height="46.4" fill="#2a2a2a"/>
<rect x="537.3" y="168.9" width="23.1" height="4.8" fill="url(#hw)"/>
<rect x="584.4" y="168.9" width="22.6" height="4.8" fill="url(#hw)"/>
<path d="M537.3,168.9 V173.7 H560.4 M584.4,173.7 H607 V168.9" fill="none" stroke="#000" stroke-width="0.7"/>
<path d="M563.2,101 L563.2,79.2 L572.2,73.2 L580.6,79.2 L580.6,95.6 Q581.8,96.4 581.6,98.2" fill="#fff" stroke="#1a1a1a" stroke-width="0.75"/>
<path d="M572.2,73.2 L572.4,94.6 M572.6,80.2 L579,99.4" fill="none" stroke="#000" stroke-width="0.6"/>
<path d="M571.6,75.2 L566,79.9 L563.4,79.5" fill="none" stroke="#222" stroke-width="0.6"/><path d="M572.8,74.2 L580.4,79.6" fill="none" stroke="#000" stroke-width="1.2"/>
<path d="M563.6,94.6 L576,95" fill="none" stroke="#000" stroke-width="1.1"/>
<path d="M563.6,95.8 L579.8,99.8" fill="none" stroke="#000" stroke-width="0.6"/>
<rect x="564" y="100" width="16.5" height="70" fill="#fff"/>
<line x1="564" y1="100" x2="564" y2="170.5" stroke="#222" stroke-width="0.6" />
<line x1="580.5" y1="100" x2="580.5" y2="170.5" stroke="#222" stroke-width="0.6" />
<path d="M563.8,106.6 L580.8,110.5" stroke="#222" stroke-width="0.55" fill="none"/>
<path d="M562.3,102.6 L581.9,107.2" stroke="#000" stroke-width="3.5" stroke-linecap="round" fill="none"/>
<path d="M562.5,102.65 L581.7,107.15" stroke="#fff" stroke-width="1.4" stroke-linecap="round" fill="none"/>
<path d="M563.8,113.48 L580.8,117.38" stroke="#222" stroke-width="0.55" fill="none"/>
<path d="M562.3,109.48 L581.9,114.08" stroke="#000" stroke-width="3.5" stroke-linecap="round" fill="none"/>
<path d="M562.5,109.53 L581.7,114.03" stroke="#fff" stroke-width="1.4" stroke-linecap="round" fill="none"/>
<path d="M563.8,120.36 L580.8,124.26" stroke="#222" stroke-width="0.55" fill="none"/>
<path d="M562.3,116.36 L581.9,120.96" stroke="#000" stroke-width="3.5" stroke-linecap="round" fill="none"/>
<path d="M562.5,116.41 L581.7,120.91" stroke="#fff" stroke-width="1.4" stroke-linecap="round" fill="none"/>
<path d="M563.8,127.24 L580.8,131.14" stroke="#222" stroke-width="0.55" fill="none"/>
<path d="M562.3,123.24 L581.9,127.84" stroke="#000" stroke-width="3.5" stroke-linecap="round" fill="none"/>
<path d="M562.5,123.29 L581.7,127.79" stroke="#fff" stroke-width="1.4" stroke-linecap="round" fill="none"/>
<path d="M563.8,134.12 L580.8,138.02" stroke="#222" stroke-width="0.55" fill="none"/>
<path d="M562.3,130.12 L581.9,134.72" stroke="#000" stroke-width="3.5" stroke-linecap="round" fill="none"/>
<path d="M562.5,130.17 L581.7,134.67" stroke="#fff" stroke-width="1.4" stroke-linecap="round" fill="none"/>
<path d="M563.8,141.0 L580.8,144.9" stroke="#222" stroke-width="0.55" fill="none"/>
<path d="M562.3,137.0 L581.9,141.6" stroke="#000" stroke-width="3.5" stroke-linecap="round" fill="none"/>
<path d="M562.5,137.05 L581.7,141.55" stroke="#fff" stroke-width="1.4" stroke-linecap="round" fill="none"/>
<path d="M563.8,147.88 L580.8,151.78" stroke="#222" stroke-width="0.55" fill="none"/>
<path d="M562.3,143.88 L581.9,148.48" stroke="#000" stroke-width="3.5" stroke-linecap="round" fill="none"/>
<path d="M562.5,143.93 L581.7,148.43" stroke="#fff" stroke-width="1.4" stroke-linecap="round" fill="none"/>
<path d="M563.8,154.76 L580.8,158.66" stroke="#222" stroke-width="0.55" fill="none"/>
<path d="M562.3,150.76 L581.9,155.36" stroke="#000" stroke-width="3.5" stroke-linecap="round" fill="none"/>
<path d="M562.5,150.81 L581.7,155.31" stroke="#fff" stroke-width="1.4" stroke-linecap="round" fill="none"/>
<path d="M563.8,161.64 L580.8,165.54" stroke="#222" stroke-width="0.55" fill="none"/>
<path d="M562.3,157.64 L581.9,162.24" stroke="#000" stroke-width="3.5" stroke-linecap="round" fill="none"/>
<path d="M562.5,157.69 L581.7,162.19" stroke="#fff" stroke-width="1.4" stroke-linecap="round" fill="none"/>
<path d="M563.8,168.52 L580.8,172.42" stroke="#222" stroke-width="0.55" fill="none"/>
<path d="M562.3,164.52 L581.9,169.12" stroke="#000" stroke-width="3.5" stroke-linecap="round" fill="none"/>
<path d="M562.5,164.57 L581.7,169.07" stroke="#fff" stroke-width="1.4" stroke-linecap="round" fill="none"/>
<path d="M566,170.6 L575.5,171.8 L573.6,172.6 Z" fill="#000"/>
<line x1="572.4" y1="70.5" x2="572.4" y2="100" stroke="#444" stroke-width="0.4" stroke-dasharray="5 1.2 1 1.2"/>
<line x1="572.4" y1="100" x2="572.4" y2="170" stroke="#777" stroke-width="0.35" />
<rect x="551.3" y="174.6" width="41.6" height="4.1" rx="1.7" fill="#fff" stroke="#000" stroke-width="0.8"/>
<path d="M553.4,178.7 L553.4,192.8 Q553.4,195.3 556,195.3 L587.8,195.3 Q590.3,195.3 590.3,192.8 L590.3,178.7" fill="#fff" stroke="#111" stroke-width="0.8"/>
<path d="M562.3,178.7 L562.3,193.4 M581.4,178.7 L581.4,193.4 M553.6,192.8 Q558,195.6 562.4,193.4 Q571.9,196.8 581.4,193.4 Q586,195.6 590,192.8" fill="none" stroke="#333" stroke-width="0.55"/>
<line x1="572.4" y1="173" x2="572.4" y2="201.6" stroke="#444" stroke-width="0.4" stroke-dasharray="5 1.2 1 1.2"/>
<path d="M596.5,173.8 L596.5,186.2 L658,186.2" fill="none" stroke="#000" stroke-width="0.6"/>
<path d="M588.8,191.5 L588.8,204.3 L665,204.3" fill="none" stroke="#333" stroke-width="0.55"/>
<text x="598.9" y="185" font-size="6.8" font-weight="bold" textLength="56.2" lengthAdjust="spacingAndGlyphs" stroke="#000" stroke-width="0.15">Шайба 5,3 DIN 9021 A2</text>
<text x="598.9" y="192.6" font-size="6.8" font-weight="bold" textLength="24" lengthAdjust="spacingAndGlyphs" stroke="#000" stroke-width="0.15">(KDS-157)</text>
<text x="598.9" y="202.9" font-size="6.8" font-weight="bold" textLength="63.2" lengthAdjust="spacingAndGlyphs" stroke="#000" stroke-width="0.15">Винт 4,8x25 DIN 7504K A2</text>
<text x="598.9" y="210.6" font-size="6.8" font-weight="bold" textLength="24" lengthAdjust="spacingAndGlyphs" stroke="#000" stroke-width="0.15">(KDS-155)</text>
</g>
<rect x="600.6" y="306" width="21" height="8.6" fill="#fff"/>
<text x="601.6" y="313.2" font-size="7" font-weight="bold" textLength="18.5" lengthAdjust="spacingAndGlyphs">Ø10.5</text>
<path d="M548.3,314.4 L557.4,314.4 M587,314.4 L596.6,314.4" stroke="#000" stroke-width="0.5"/>
<path d="M548.3,314.4 l3.4,-0.8 v1.6z M596.6,314.4 l-3.4,-0.8 v1.6z" fill="#000"/>
<text x="574.1" y="396.2" font-size="6.3" font-weight="bold" text-anchor="middle" textLength="66.3" lengthAdjust="spacingAndGlyphs" stroke="#000" stroke-width="0.15">Центрирующий инструмент</text>
<text x="574.1" y="403.9" font-size="6.3" font-weight="bold" text-anchor="middle" textLength="48" lengthAdjust="spacingAndGlyphs" stroke="#000" stroke-width="0.15">для отверстий 6 мм</text>
<text x="574.4" y="411.4" font-size="6.3" font-weight="bold" text-anchor="middle" textLength="41.1" lengthAdjust="spacingAndGlyphs" stroke="#000" stroke-width="0.15">(сверло Ø3,8 мм)</text>
<g clip-path="url(#ph)"><g filter="url(#bl)">
<rect x="534" y="413" width="82" height="71" fill="#989898"/>
<rect x="534" y="413" width="16" height="71" fill="#a4a4a4"/>
<rect x="549.6" y="413" width="16" height="34" fill="#b2b2b2"/>
<rect x="549.6" y="447" width="8" height="37" fill="#9c9c9c"/>
<rect x="534" y="440.4" width="20" height="2.2" fill="#bdbdbd"/>
<polygon points="586,413 616,413 616,484 586.6,484" fill="#8f8f8f"/>
<polygon points="552.4,433.4 555.4,432.6 558.4,484 555.2,484" fill="#707070"/>
<polygon points="555,432.7 585.7,426.4 586.5,484 558,484" fill="#ececec"/>
<circle cx="563.8" cy="443.6" r="0.9" fill="#aaa"/>
<path d="M571.4,445.4 L568.2,455.4 L580.4,478.5" fill="none" stroke="#5a5a5a" stroke-width="3.2"/>
<path d="M571.4,445.4 L568.4,455.4 L580.4,478.5" fill="none" stroke="#c4c4c4" stroke-width="1.1"/>
<circle cx="572.6" cy="442.6" r="3.1" fill="#eee" stroke="#4a4a4a" stroke-width="1.4"/>
<line x1="576" y1="444.7" x2="601" y2="444.7" stroke="#d8d8d8" stroke-width="1.2" />
<line x1="576" y1="445.8" x2="601" y2="445.8" stroke="#4a4a4a" stroke-width="0.7" />
<path d="M598,445 L603,439.6 L613,437.6 L613,454.4 L603,450.6 Z" fill="#5c5c5c"/>
<path d="M602.6,440.6 L606,439.8 L606,450.8 L602.6,449.6 Z" fill="#a8a8a8"/>
</g></g>
<rect x="537.9" y="417.2" width="73.3" height="62.3" stroke="#222" stroke-width="1.5" fill="none" />
</svg></body></html>
